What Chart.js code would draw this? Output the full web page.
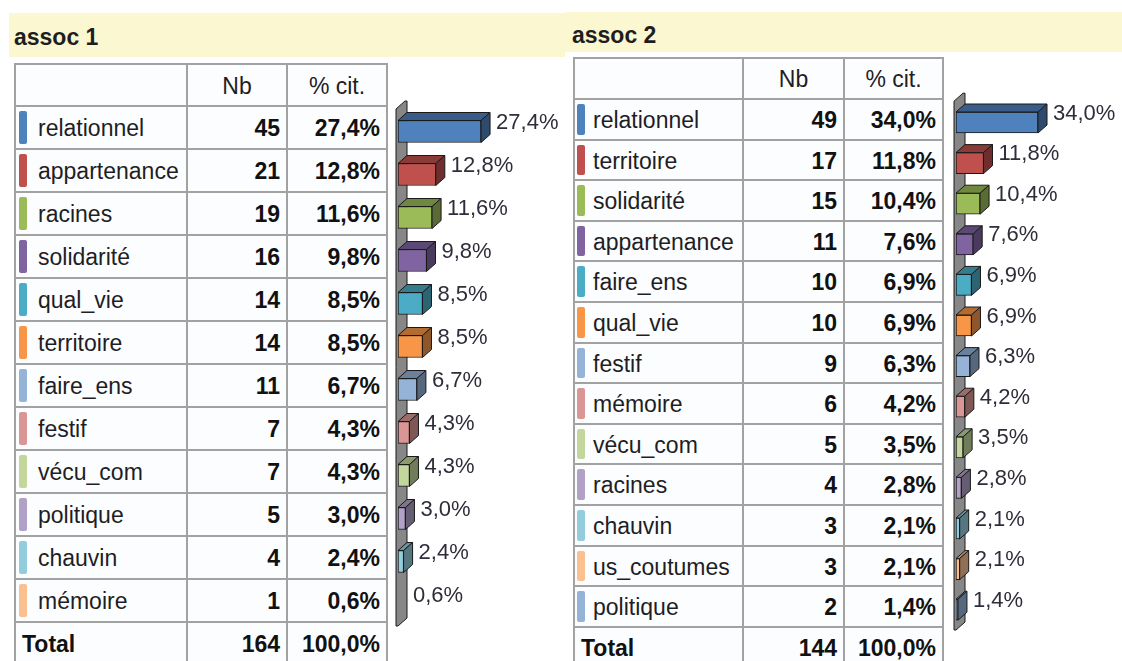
<!DOCTYPE html>
<html>
<head>
<meta charset="utf-8">
<script src="https://cdn.jsdelivr.net/npm/chart.js@4/dist/chart.umd.min.js"></script>
<style>
  html,body{margin:0;padding:0;}
  body{width:1122px;height:661px;overflow:hidden;background:#fff;position:relative;font-family:'Liberation Sans',Arial,sans-serif;}
  .abs{position:absolute;}
  .band{position:absolute;background:#fbf7d1;}
  .title{position:absolute;font-weight:bold;font-size:23px;color:#1e1e1e;white-space:nowrap;}
  .cell{position:absolute;font-size:23px;white-space:nowrap;color:#1e1e24;}
  .b{font-weight:bold;color:#111;}
  .line{position:absolute;background:#a2a2a2;}
  .sw{position:absolute;border-radius:2px;}
  canvas{position:absolute;}
</style>
</head>
<body>
<script>
// ---------------- DATA ----------------
const TITLE_1 = 'assoc 1';
const LABELS_1 = ['relationnel','appartenance','racines','solidarité','qual_vie','territoire','faire_ens','festif','vécu_com','politique','chauvin','mémoire'];
const NB_1 = [45,21,19,16,14,14,11,7,7,5,4,1];
const PCT_1 = [27.4,12.8,11.6,9.8,8.5,8.5,6.7,4.3,4.3,3.0,2.4,0.6];
const TOTAL_NB_1 = 164;
const TOTAL_PCT_1 = 100.0;

const TITLE_2 = 'assoc 2';
const LABELS_2 = ['relationnel','territoire','solidarité','appartenance','faire_ens','qual_vie','festif','mémoire','vécu_com','racines','chauvin','us_coutumes','politique'];
const NB_2 = [49,17,15,11,10,10,9,6,5,4,3,3,2];
const PCT_2 = [34.0,11.8,10.4,7.6,6.9,6.9,6.3,4.2,3.5,2.8,2.1,2.1,1.4];
const TOTAL_NB_2 = 144;
const TOTAL_PCT_2 = 100.0;

const HEADERS = ['Nb','% cit.'];
const TOTAL_LABEL = 'Total';

// ---------------- STYLE ----------------
const PALETTE = ['#4f81bd','#c0504d','#9bbb59','#8064a2','#4bacc6','#f79646','#95b3d7','#d99694','#c3d69b','#b2a1c7','#93cddd','#fac090','#95b3d7'];
const DX = 9, DY = 8;

const LAYOUT_1 = {
  band:{x:9,y:13,w:556,h:44}, titleX:14, titleDy:2,
  colX:[14,186,286,386], top:63, headH:42, rowH:43,
  swX:19, txtX:38, textDy:2,
  chart:{left:390, top:63, w:175, h:598, pad:{left:8,right:13.9,top:47,bottom:35}, min:0.6, max:50, thick:22}
};
const LAYOUT_2 = {
  band:{x:565,y:12,w:557,h:40}, titleX:572, titleDy:3,
  colX:[573,742,843,942], top:57, headH:41, rowH:40.6,
  swX:577, txtX:593, textDy:2,
  chart:{left:948, top:57, w:174, h:604, pad:{left:8,right:44.7,top:45.2,bottom:31}, min:0.6, max:50, thick:21}
};

function fmtPct(v){ return v.toFixed(1).replace('.', ',') + '%'; }

function shade(hex, f){
  const n = parseInt(hex.slice(1),16);
  const r = Math.round(((n>>16)&255)*f), g = Math.round(((n>>8)&255)*f), b = Math.round((n&255)*f);
  return 'rgb('+r+','+g+','+b+')';
}

function el(cls, css, text){
  const d = document.createElement('div');
  d.className = cls;
  Object.assign(d.style, css);
  if (text !== undefined) d.textContent = text;
  document.body.appendChild(d);
  return d;
}

function buildPanel(L, title, labels, nb, pct, totNb, totPct){
  el('band', {left:L.band.x+'px', top:L.band.y+'px', width:L.band.w+'px', height:L.band.h+'px'});
  el('title', {left:L.titleX+'px', top:(L.band.y+L.titleDy)+'px', height:L.band.h+'px', lineHeight:L.band.h+'px'}, title);

  const n = labels.length;
  const bodyTop = L.top + L.headH;
  const bottom = bodyTop + (n+1)*L.rowH;
  const x0 = L.colX[0], x3 = L.colX[3];
  el('abs', {left:x0+'px', top:L.top+'px', width:(x3-x0+2)+'px', height:(bottom-L.top)+'px', background:'#fcfdff'});
  const hy = [L.top, bodyTop];
  for (let i=1;i<=n+1;i++) hy.push(bodyTop + i*L.rowH);
  hy.forEach(y => el('line', {left:x0+'px', top:y+'px', width:(x3-x0+2)+'px', height:'2px'}));
  L.colX.forEach(x => el('line', {left:x+'px', top:L.top+'px', width:'2px', height:(bottom-L.top+2)+'px'}));

  const cellText = (txt, rowTop, h, opts) => {
    const css = {top:(rowTop+L.textDy)+'px', height:h+'px', lineHeight:h+'px'};
    if (opts.align === 'right') { css.right = (1122 - opts.x)+'px'; css.textAlign='right'; }
    else if (opts.align === 'center') { css.left = opts.x+'px'; css.width = opts.w+'px'; css.textAlign='center'; }
    else { css.left = opts.x+'px'; }
    return el('cell' + (opts.bold ? ' b' : ''), css, txt);
  };

  cellText(HEADERS[0], L.top, L.headH, {align:'center', x:L.colX[1]+2, w:L.colX[2]-L.colX[1]-2});
  cellText(HEADERS[1], L.top, L.headH, {align:'center', x:L.colX[2]+2, w:L.colX[3]-L.colX[2]-2});

  for (let i=0;i<n;i++){
    const rt = bodyTop + i*L.rowH;
    el('sw', {left:L.swX+'px', top:(rt+6)+'px', width:'8px', height:(L.rowH-10)+'px', background:PALETTE[i]});
    cellText(labels[i], rt, L.rowH, {x:L.txtX});
    cellText(String(nb[i]), rt, L.rowH, {align:'right', x:L.colX[2]-6, bold:true});
    cellText(fmtPct(pct[i]), rt, L.rowH, {align:'right', x:L.colX[3]-6, bold:true});
  }
  const tt = bodyTop + n*L.rowH;
  cellText(TOTAL_LABEL, tt, L.rowH, {x:x0+8, bold:true});
  cellText(String(totNb), tt, L.rowH, {align:'right', x:L.colX[2]-6, bold:true});
  cellText(fmtPct(totPct), tt, L.rowH, {align:'right', x:L.colX[3]-6, bold:true});
}

const bar3d = {
  id:'bar3d',
  beforeDatasetsDraw(chart){
    const ctx = chart.ctx, a = chart.chartArea;
    const meta = chart.getDatasetMeta(0);
    const base = meta.data[0].getProps(['base'], true).base;
    const top = a.top - 1, bot = a.bottom;
    ctx.save();
    ctx.beginPath();
    ctx.moveTo(base-2, bot);
    ctx.lineTo(base-2, top);
    ctx.lineTo(base-2+DX, top-DY);
    ctx.lineTo(base+DX, top-DY);
    ctx.lineTo(base+DX, bot-DY);
    ctx.lineTo(base, bot);
    ctx.closePath();
    ctx.fillStyle = '#878787';
    ctx.fill();
    ctx.strokeStyle = '#1a1a1a';
    ctx.lineWidth = 1;
    ctx.stroke();
    ctx.restore();
  },
  afterDatasetsDraw(chart){
    const ctx = chart.ctx;
    const meta = chart.getDatasetMeta(0);
    const ds = chart.data.datasets[0];
    ctx.save();
    meta.data.forEach((bar, i) => {
      const p = bar.getProps(['x','y','base','height'], true);
      const col = ds.backgroundColor[i];
      const y0 = p.y - p.height/2, y1 = p.y + p.height/2;
      if (p.x - p.base > 0.5){
        ctx.lineWidth = 1;
        ctx.strokeStyle = '#1a1a1a';
        ctx.beginPath();
        ctx.moveTo(p.base, y0);
        ctx.lineTo(p.base+DX, y0-DY);
        ctx.lineTo(p.x+DX, y0-DY);
        ctx.lineTo(p.x, y0);
        ctx.closePath();
        ctx.fillStyle = shade(col, 0.72);
        ctx.fill(); ctx.stroke();
        ctx.beginPath();
        ctx.moveTo(p.x, y0);
        ctx.lineTo(p.x+DX, y0-DY);
        ctx.lineTo(p.x+DX, y1-DY);
        ctx.lineTo(p.x, y1);
        ctx.closePath();
        ctx.fillStyle = shade(col, 0.58);
        ctx.fill(); ctx.stroke();
      }
      ctx.fillStyle = '#2e2e3a';
      ctx.font = '22px "Liberation Sans", Arial, sans-serif';
      ctx.textBaseline = 'middle';
      ctx.textAlign = 'left';
      ctx.fillText(fmtPct(ds.data[i]), Math.max(p.x, p.base) + DX + 6, p.y - 9);
    });
    ctx.restore();
  }
};

function buildChart(L, labels, pct){
  const C = L.chart;
  const cv = document.createElement('canvas');
  cv.width = C.w; cv.height = C.h;
  cv.style.left = C.left+'px'; cv.style.top = C.top+'px';
  cv.style.width = C.w+'px'; cv.style.height = C.h+'px';
  document.body.appendChild(cv);
  new Chart(cv, {
    type:'bar',
    data:{
      labels: labels,
      datasets:[{
        data: pct,
        base: C.min,
        backgroundColor: PALETTE.slice(0, labels.length),
        borderColor:'#1a1a1a',
        borderWidth:1,
        borderSkipped:false,
        barThickness: C.thick
      }]
    },
    options:{
      indexAxis:'y',
      responsive:false,
      animation:false,
      devicePixelRatio:1,
      events:[],
      layout:{padding:C.pad},
      plugins:{legend:{display:false}, tooltip:{enabled:false}},
      scales:{
        x:{display:false, min:C.min, max:C.max},
        y:{display:false}
      }
    },
    plugins:[bar3d]
  });
}

buildPanel(LAYOUT_1, TITLE_1, LABELS_1, NB_1, PCT_1, TOTAL_NB_1, TOTAL_PCT_1);
buildPanel(LAYOUT_2, TITLE_2, LABELS_2, NB_2, PCT_2, TOTAL_NB_2, TOTAL_PCT_2);
buildChart(LAYOUT_1, LABELS_1, PCT_1);
buildChart(LAYOUT_2, LABELS_2, PCT_2);
</script>
</body>
</html>
